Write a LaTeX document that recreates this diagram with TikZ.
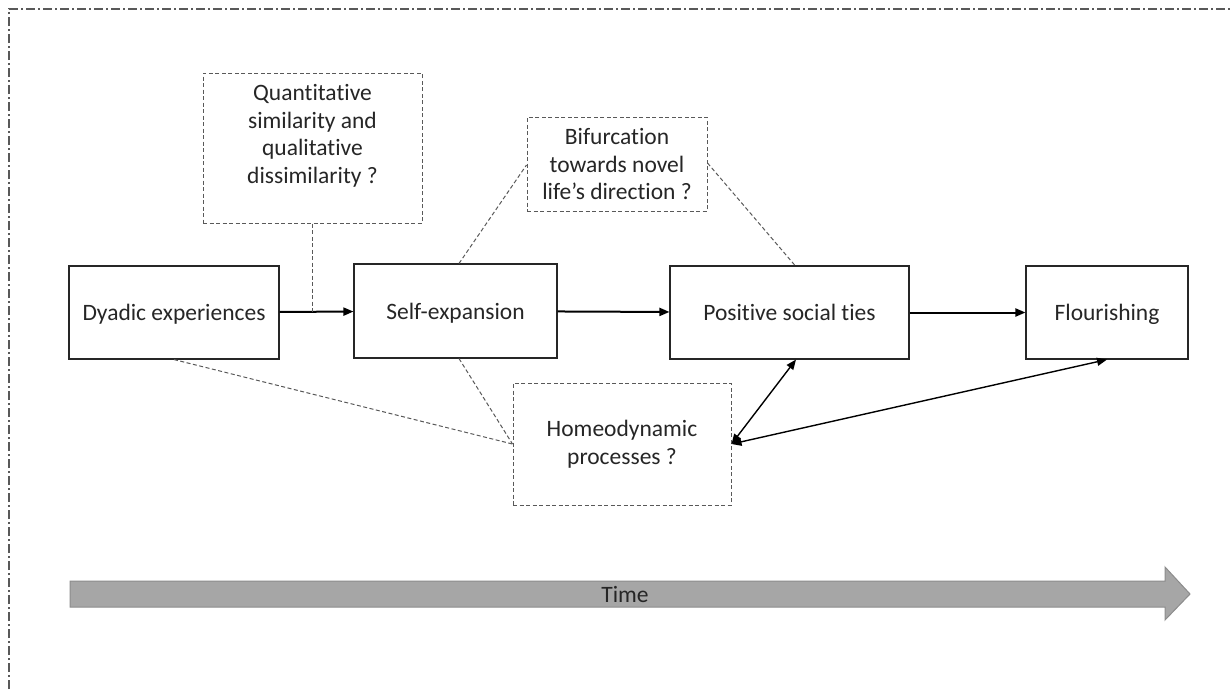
\documentclass[tikz,border=0pt]{standalone}
\usepackage{fontspec}
\setmainfont{Carlito}[Ligatures=NoCommon]
\usetikzlibrary{arrows.meta}
\definecolor{boxline}{HTML}{262626}
\definecolor{dashline}{HTML}{595959}
\definecolor{timefill}{HTML}{A6A6A6}
\definecolor{timeline}{HTML}{8C8C8C}
\tikzset{
  txt/.style={font=\fontsize{23.5}{27.5}\selectfont, text=boxline},
  solidbox/.style={txt, draw=boxline, line width=1.1pt, fill=white, inner sep=0pt, align=center, text height=16.5pt, text depth=0pt},
  dashbox/.style={txt, draw=dashline, line width=1pt, dash pattern=on 4pt off 2.5pt, fill=white, inner sep=0pt, align=center},
  flow/.style={line width=2pt, -{Triangle[length=10pt,width=8pt]}},
  link/.style={draw=dashline, line width=1pt, dash pattern=on 4pt off 2.5pt},
  dbl/.style={line width=1.4pt, {Triangle[length=10pt,width=8pt]}-{Triangle[length=10pt,width=8pt]}},
}
\begin{document}
\begin{tikzpicture}[x=1pt,y=-1pt]
\useasboundingbox (0,0) rectangle (1230,689);
% outer frame
\draw[dashline, line width=1.2pt, dash pattern=on 9pt off 3pt on 2pt off 3pt] (9,689) -- (9,9) -- (1230,9);
% boxes
\node[solidbox, minimum width=210pt, minimum height=93pt] (dy) at (174,312.5) {Dyadic experiences};
\node[solidbox, minimum width=203pt, minimum height=94pt] (se) at (455.5,311) {Self-expansion};
\node[solidbox, minimum width=239pt, minimum height=93pt] (ps) at (789.5,312.5) {Positive social ties};
\node[solidbox, minimum width=162pt, minimum height=93pt] (fl) at (1107,312.5) {Flourishing};
\node[dashbox, minimum width=219pt, minimum height=150pt] (qs) at (312.5,148) {Quantitative\\similarity and\\qualitative\\dissimilarity ?\\[1pt]};
\node[dashbox, minimum width=180pt, minimum height=94pt] (bf) at (617,164) {Bifurcation\\towards novel\\life’s direction ?};
\node[dashbox, minimum width=218pt, minimum height=122pt] (ho) at (622,444) {Homeodynamic\\processes ?};
% main flow
\draw[flow] (dy) -- (se);
\draw[flow] (se) -- (ps);
\draw[flow] (ps) -- (fl);
% dashed links
\coordinate (qa) at (312,312);
\draw[link] (qs.south -| qa) -- (qa);
\draw[link] (se.north -| 459,0) -- (bf.west |- 0,165);
\draw[link] (bf.east |- 0,163) -- (ps.north -| 795,0);
\draw[link] (dy.south) -- (ho.west);
\draw[link] (se.south -| 459,0) -- (ho.west);
% double arrows
\draw[dbl] (ho.east) -- (ps.south -| 796,0);
\draw[dbl] (ho.east) -- (fl.south);
% time arrow
\draw[draw=timeline, fill=timefill, line width=1pt] (70,581) -- (1165,581) -- (1165,567) -- (1190,594) -- (1165,620) -- (1165,607) -- (70,607) -- cycle;
\node[txt] (tl) at (625,594) {Time};
\end{tikzpicture}
\end{document}
